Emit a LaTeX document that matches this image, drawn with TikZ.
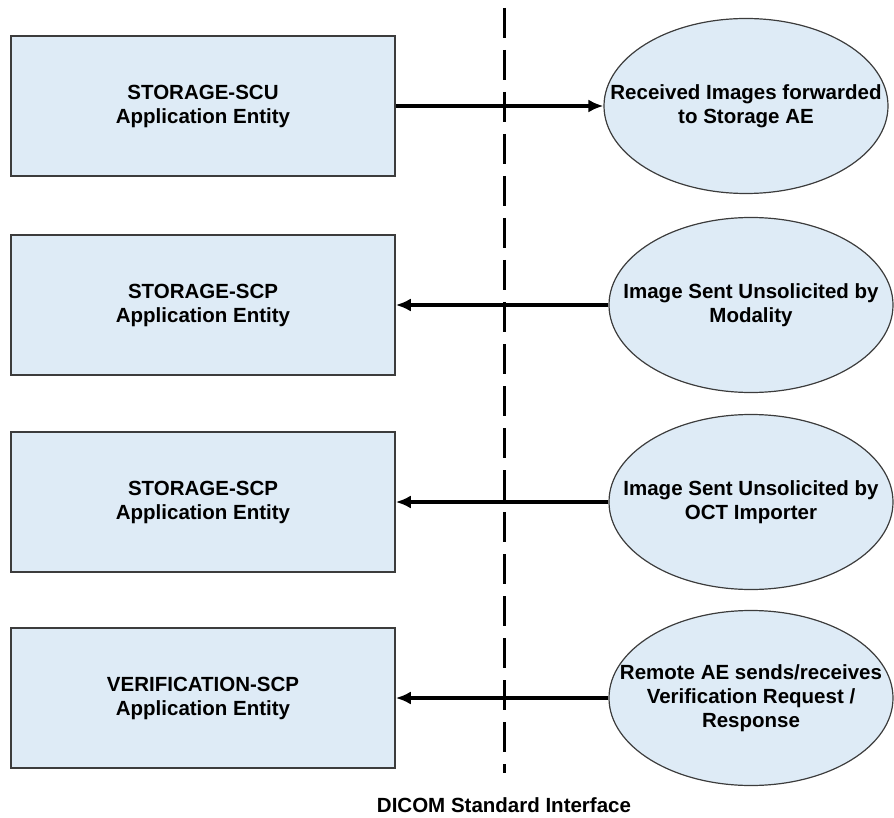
\documentclass[tikz,border=0pt]{standalone}
\usepackage{fontspec}
\setmainfont{Liberation Sans}
\usetikzlibrary{shapes.geometric,arrows.meta}
\definecolor{aefill}{RGB}{222,235,246}
\definecolor{aeline}{RGB}{60,60,60}
\begin{document}
\begin{tikzpicture}[x=1pt, y=-1pt, >={Latex[length=15pt,width=13pt]},
    every node/.style={font=\fontsize{20.5}{24}\selectfont\bfseries, align=center},
    aebox/.style={draw=aeline, line width=1.5pt, fill=aefill, minimum width=384pt, minimum height=140pt, inner sep=0pt},
    remote/.style={ellipse, draw=aeline, line width=1.2pt, fill=aefill, minimum width=284pt, minimum height=175pt, inner sep=0pt}]
            \useasboundingbox (0,0) rectangle (894,818);

            %interface line
            \coordinate (top) at (504,8);
            \coordinate (bot) at (504,773);
            \draw[line width=3pt, dash pattern=on 30pt off 12pt] (top) -- (bot);
            \node (dicom) at (504,805) {DICOM Standard Interface};

            %boxes
            \node (scu) at (203,106) [aebox] {STORAGE-SCU\\Application Entity};
            \node (scp) at (203,305) [aebox] {STORAGE-SCP\\Application Entity};
            \node (oct) at (203,502) [aebox] {STORAGE-SCP\\Application Entity};
            \node (ver) at (203,698) [aebox] {VERIFICATION-SCP\\Application Entity};

            %remote activities
            \node (fwd) at (746,106) [remote, label={center:Received Images forwarded\\to Storage AE}] {};
            \node (mod) at (751,305) [remote, label={center:Image Sent Unsolicited by\\Modality}] {};
            \node (imp) at (751,502) [remote, label={center:Image Sent Unsolicited by\\OCT Importer}] {};
            \node (echo) at (751,698) [remote, label={center:Remote AE sends/receives\\Verification Request /\\Response}] {};

            %arrows
            \draw[->, line width=4.5pt] (scu) -- (fwd);
            \draw[<-, line width=4.5pt] (scp) -- (mod);
            \draw[<-, line width=4.5pt] (oct) -- (imp);
            \draw[<-, line width=4.5pt] (ver) -- (echo);

    \end{tikzpicture}
\end{document}
